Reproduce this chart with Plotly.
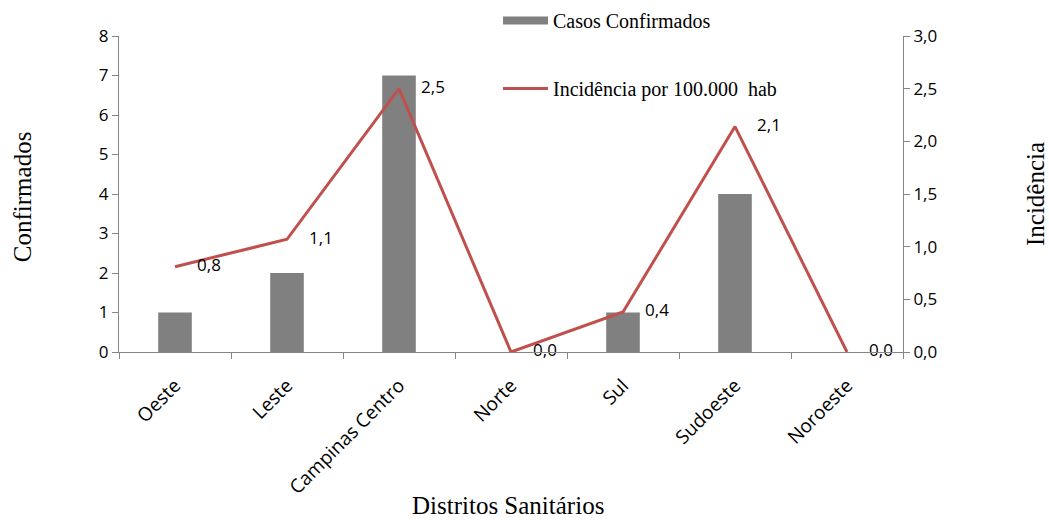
import plotly.graph_objects as go

categories = ["Oeste", "Leste", "Campinas Centro", "Norte", "Sul", "Sudoeste", "Noroeste"]
casos = [1, 2, 7, 0, 1, 4, 0]
incidencia = [0.81, 1.07, 2.5, 0.0, 0.38, 2.14, 0.0]

axis_color = "#868686"
bar_color = "#808080"
line_color = "#C0504D"
serif = "Liberation Serif"
sans = "Open Sans"

fig = go.Figure()
fig.add_trace(go.Bar(
    x=categories, y=casos, name="Casos Confirmados",
    marker=dict(color=bar_color, line=dict(width=0)),
    width=0.3, yaxis="y", showlegend=False,
))
# legend entry drawn as a wide rectangle (like the original)
fig.add_trace(go.Scatter(
    x=[None], y=[None], name="Casos Confirmados", mode="lines",
    line=dict(color=bar_color, width=8), yaxis="y", legend="legend",
    hoverinfo="skip",
))
fig.add_trace(go.Scatter(
    x=categories, y=incidencia, name="Incidência por 100.000  hab",
    mode="lines+text", line=dict(color=line_color, width=3),
    text=["     " + f"{v:.1f}".replace(".", ",") for v in incidencia],
    textposition="middle right",
    textfont=dict(family=sans, size=17, color="black"),
    yaxis="y2", legend="legend2", cliponaxis=False,
))

W, H = 1049, 520
L, T = 119, 36
R = W - 903
B = H - 352
pw = W - L - R
ph = H - T - B

fig.update_layout(
    width=W, height=H,
    margin=dict(l=L, r=R, t=T, b=B, autoexpand=False),
    plot_bgcolor="white", paper_bgcolor="white",
    separators=",.",
    xaxis=dict(
        showline=True, linecolor=axis_color, linewidth=1, automargin=False,
        ticks="outside", tickcolor=axis_color, ticklen=6, tickson="boundaries",
        tickangle=-45, tickfont=dict(family=sans, size=19, color="black"),
        ticklabelstandoff=14,
        showgrid=False,
    ),
    yaxis=dict(
        range=[0, 8], dtick=1, showline=True, linecolor=axis_color, linewidth=1, automargin=False,
        ticks="outside", tickcolor=axis_color, ticklen=6,
        tickfont=dict(family=sans, size=17, color="black"),
        showgrid=False, zeroline=False,
    ),
    yaxis2=dict(
        range=[0, 3], dtick=0.5, tickformat=".1f", overlaying="y", side="right",
        showline=True, linecolor=axis_color, linewidth=1, automargin=False,
        ticks="outside", tickcolor=axis_color, ticklen=6,
        tickfont=dict(family=sans, size=17, color="black"),
        showgrid=False, zeroline=False,
    ),
    legend=dict(
        x=(498 - L) / pw, y=1 + 35 / ph, xanchor="left", yanchor="top",
        itemwidth=45,
        font=dict(family=serif, size=20, color="black"), bgcolor="rgba(0,0,0,0)",
    ),
    legend2=dict(
        x=(498 - L) / pw, y=1 - 33 / ph, xanchor="left", yanchor="top",
        itemwidth=45,
        font=dict(family=serif, size=20, color="black"), bgcolor="rgba(0,0,0,0)",
    ),
    showlegend=True,
    annotations=[
        dict(
            text="Confirmados", xref="paper", yref="paper",
            x=(22 - L) / pw, y=0.49, xanchor="center", yanchor="middle",
            textangle=-90, showarrow=False,
            font=dict(family=serif, size=25, color="black"),
        ),
        dict(
            text="Incidência", xref="paper", yref="paper",
            x=1 + (1035 - (W - R)) / pw, y=0.5, xanchor="center", yanchor="middle",
            textangle=-90, showarrow=False,
            font=dict(family=serif, size=25, color="black"),
        ),
        dict(
            text="Distritos Sanitários", xref="paper", yref="paper",
            x=(508 - L) / pw, y=-(505 - (H - B)) / ph, xanchor="center", yanchor="middle",
            showarrow=False,
            font=dict(family=serif, size=25, color="black"),
        ),
    ],
)

fig.write_html(
    "out.html",
    config={"displayModeBar": False},
    post_script="document.body.style.margin='0';document.body.style.overflow='hidden';",
)
